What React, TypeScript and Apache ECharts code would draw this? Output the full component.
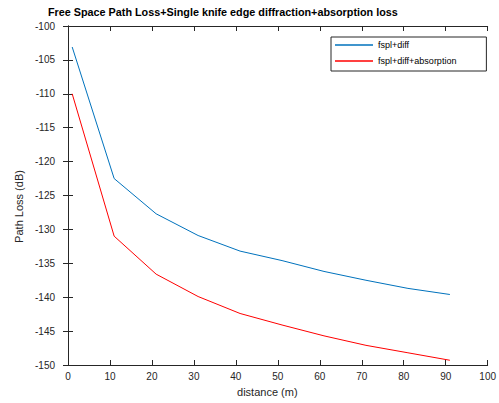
import React, { useEffect, useRef } from "react";
import * as echarts from "echarts";

const distances = [1, 11, 21, 31, 41, 51, 61, 71, 81, 91];
const fsplDiff = [-103.1, -122.5, -127.7, -130.9, -133.2, -134.6, -136.2, -137.5, -138.7, -139.6];
const fsplDiffAbs = [-110.0, -131.0, -136.6, -139.9, -142.4, -144.1, -145.7, -147.1, -148.2, -149.3];
const seriesNames = ["fspl+diff", "fspl+diff+absorption"];
const titleText = "Free Space Path Loss+Single knife edge diffraction+absorption loss";
const xName = "distance (m)";
const yName = "Path Loss (dB)";

const FONT = "'Liberation Sans', Arial, Helvetica, sans-serif";
const AX = "#262626";

export default function App() {
  const ref = useRef<HTMLDivElement>(null);
  useEffect(() => {
    if (!ref.current) return;
    const chart = echarts.init(ref.current, undefined, { renderer: "svg" });
    const axisCommon = {
      axisLine: { show: true, lineStyle: { color: AX, width: 1 } },
      axisTick: { show: true, inside: true, length: 5, lineStyle: { color: AX, width: 1 } },
      splitLine: { show: false },
    };
    chart.setOption({
      animation: false,
      backgroundColor: "#fff",
      textStyle: { fontFamily: FONT },
      title: {
        text: titleText,
        left: 48,
        top: 6,
        padding: 0,
        textStyle: { fontSize: 10.8, fontWeight: "bold", color: "#000", fontFamily: FONT },
      },
      legend: {
        orient: "vertical",
        left: 331,
        top: 37,
        padding: [2, 30, 4, 4],
        itemGap: 4,
        itemWidth: 38,
        itemHeight: 1.5,
        icon: "rect",
        borderColor: AX,
        borderWidth: 1,
        textStyle: { fontSize: 9, color: "#000", fontFamily: FONT, lineHeight: 12 },
        data: seriesNames,
      },
      grid: { left: 68, top: 26, width: 427, height: 339, containLabel: false },
      xAxis: [
        {
          type: "value",
          min: 0,
          max: 100,
          interval: 10,
          position: "bottom",
          ...axisCommon,
          axisLabel: {
            show: true,
            margin: 6,
            fontSize: 10,
            color: AX,
            fontFamily: FONT,
            alignMaxLabel: "center",
            alignMinLabel: "center",
            showMaxLabel: true,
          },
          name: xName,
          nameLocation: "middle",
          nameGap: 21,
          nameTextStyle: { fontSize: 11, color: AX, fontFamily: FONT, padding: [0, 21, 0, 0] },
        },
        {
          type: "value",
          min: 0,
          max: 100,
          interval: 10,
          position: "top",
          ...axisCommon,
          axisLabel: { show: false },
        },
      ],
      yAxis: [
        {
          type: "value",
          min: -150,
          max: -100,
          interval: 5,
          position: "left",
          ...axisCommon,
          axisLabel: { show: true, margin: 13, fontSize: 10, color: AX, fontFamily: FONT },
          name: yName,
          nameLocation: "middle",
          nameGap: 42,
          nameTextStyle: { fontSize: 11, color: AX, fontFamily: FONT, padding: [0, 22, 0, 0] },
        },
        {
          type: "value",
          min: -150,
          max: -100,
          interval: 5,
          position: "right",
          ...axisCommon,
          axisLabel: { show: false },
        },
      ],
      series: [
        {
          name: seriesNames[0],
          type: "line",
          xAxisIndex: 0,
          yAxisIndex: 0,
          showSymbol: false,
          symbol: "none",
          lineStyle: { color: "#0072BD", width: 1 },
          itemStyle: { color: "#0072BD" },
          data: distances.map((d, i) => [d, fsplDiff[i]]),
        },
        {
          name: seriesNames[1],
          type: "line",
          xAxisIndex: 0,
          yAxisIndex: 0,
          showSymbol: false,
          symbol: "none",
          lineStyle: { color: "#FF0000", width: 1 },
          itemStyle: { color: "#FF0000" },
          data: distances.map((d, i) => [d, fsplDiffAbs[i]]),
        },
      ],
    });
    return () => chart.dispose();
  }, []);
  return (
    <div
      ref={ref}
      style={{ position: "absolute", left: 0, top: 0, width: 499, height: 403, background: "#fff" }}
    />
  );
}
